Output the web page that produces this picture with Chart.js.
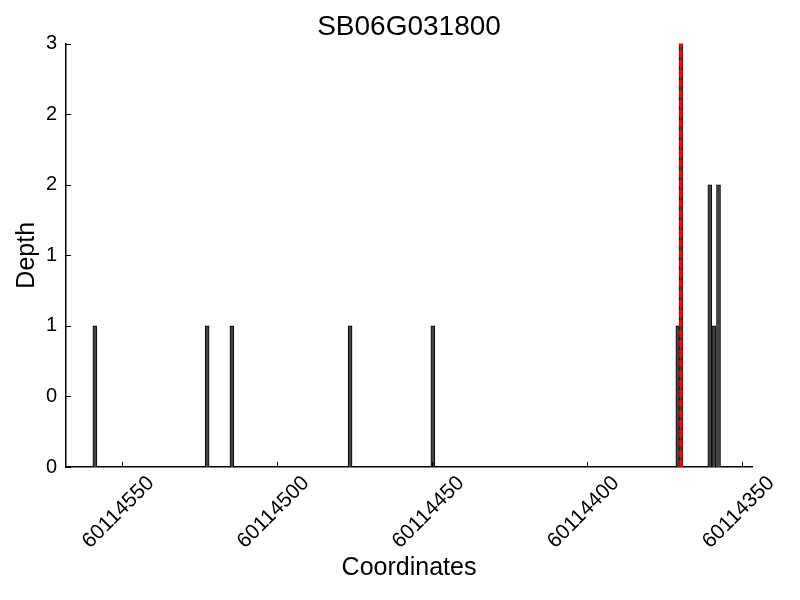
<!DOCTYPE html>
<html>
<head>
<meta charset="utf-8">
<title>SB06G031800</title>
<script src="https://cdn.jsdelivr.net/npm/chart.js@4.4.1/dist/chart.umd.min.js"></script>
<style>
    html, body { margin: 0; padding: 0; background: #fff; }
</style>
</head>
<body>
<canvas id="depthChart" width="800" height="600"></canvas>
<script>
// Data
const geneName = 'SB06G031800';
const coordinates = [60114558.7, 60114522.5, 60114514.5, 60114476.4, 60114449.7,
                     60114370.7, 60114369.7, 60114360.4, 60114359.1, 60114357.6];
const depths = [1, 1, 1, 1, 1, 1, 3, 2, 1, 2];
const markerCoordinate = 60114369.7;
const xTicks = [60114550, 60114500, 60114450, 60114400, 60114350];
const yTicks = [0, 0.5, 1, 1.5, 2, 2.5, 3];
const xRange = [60114346.8, 60114568];
const yRange = [0, 3];

const FONT = '"Liberation Sans", Arial, sans-serif';

// matplotlib-style ticks pointing into the plot
const innerTicks = {
    id: 'innerTicks',
    afterDatasetsDraw(chart) {
        const { ctx, chartArea, scales: { x, y } } = chart;
        ctx.save();
        ctx.strokeStyle = '#000';
        ctx.lineWidth = 1;
        ctx.beginPath();
        xTicks.forEach(v => {
            const px = Math.round(x.getPixelForValue(v)) + 0.5;
            ctx.moveTo(px, chartArea.bottom);
            ctx.lineTo(px, chartArea.bottom - 5);
        });
        yTicks.forEach(v => {
            const py = Math.round(y.getPixelForValue(v)) + 0.5;
            ctx.moveTo(chartArea.left, py);
            ctx.lineTo(chartArea.left + 5, py);
        });
        ctx.stroke();
        ctx.restore();
    }
};

new Chart(document.getElementById('depthChart'), {
    type: 'bar',
    data: {
        datasets: [{
            type: 'line',
            data: [{ x: markerCoordinate, y: yRange[0] }, { x: markerCoordinate, y: yRange[1] }],
            borderColor: '#ff0000',
            borderWidth: 3.5,
            borderDash: [7, 3],
            pointRadius: 0,
            order: 0
        }, {
            type: 'bar',
            data: coordinates.map((c, i) => ({ x: c, y: depths[i] })),
            backgroundColor: '#444444',
            borderColor: '#000000',
            borderWidth: 1,
            barThickness: 4,
            order: 1
        }]
    },
    options: {
        responsive: false,
        animation: false,
        layout: { padding: { top: 10, right: 48, bottom: 0, left: 0 } },
        plugins: {
            legend: { display: false },
            tooltip: { enabled: false },
            title: {
                display: true,
                text: geneName,
                fullSize: false,
                color: '#000',
                font: { family: FONT, size: 28, weight: 'normal' },
                padding: { top: 0, bottom: 0 }
            }
        },
        scales: {
            x: {
                type: 'linear',
                reverse: true,
                offset: false,
                min: xRange[0],
                max: xRange[1],
                afterBuildTicks: axis => { axis.ticks = xTicks.map(v => ({ value: v })); },
                afterFit: axis => { axis.height = 133; },
                grid: { display: false, drawTicks: false, offset: false },
                border: { display: true, color: '#000', width: 1.5 },
                ticks: {
                    autoSkip: false,
                    minRotation: 45,
                    maxRotation: 45,
                    padding: 4,
                    labelOffset: 29,
                    color: '#000',
                    font: { family: FONT, size: 21 },
                    callback: v => String(v)
                },
                title: {
                    display: true,
                    text: 'Coordinates',
                    color: '#000',
                    font: { family: FONT, size: 25 },
                    padding: { top: 0, bottom: 17 }
                }
            },
            y: {
                min: yRange[0],
                max: yRange[1],
                afterBuildTicks: axis => { axis.ticks = yTicks.map(v => ({ value: v })); },
                afterFit: axis => { axis.width = 66; },
                grid: { display: false, drawTicks: false },
                border: { display: true, color: '#000', width: 1.5 },
                ticks: {
                    padding: 9,
                    color: '#000',
                    font: { family: FONT, size: 20 },
                    callback: v => String(Math.floor(v))
                },
                title: {
                    display: true,
                    text: 'Depth',
                    color: '#000',
                    font: { family: FONT, size: 25 },
                    padding: { top: 12, bottom: 0 }
                }
            }
        }
    },
    plugins: [innerTicks]
});
</script>
</body>
</html>
